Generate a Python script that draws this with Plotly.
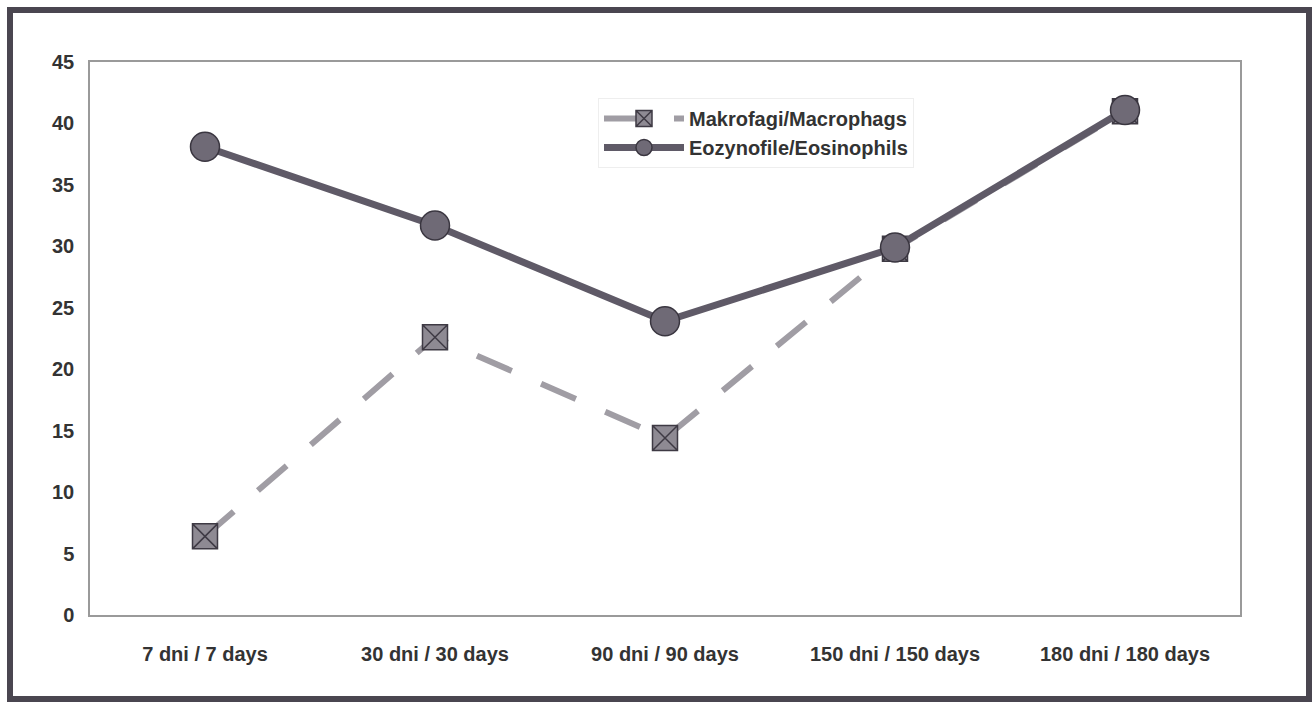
import plotly.graph_objects as go

# Time points and measured percentages
categories = ["7 dni / 7 days", "30 dni / 30 days", "90 dni / 90 days",
              "150 dni / 150 days", "180 dni / 180 days"]
macrophages = [6.4, 22.6, 14.4, 29.8, 41.0]
eosinophils = [38.1, 31.7, 23.9, 29.9, 41.1]
y_ticks = [0, 5, 10, 15, 20, 25, 30, 35, 40, 45]

W, H = 1314, 705
ML, MR, MT, MB = 90, 74, 62, 90
FONT = "Liberation Sans, Arial, sans-serif"
TEXT = "#333333"

fig = go.Figure()

fig.add_trace(go.Scatter(
    x=categories, y=macrophages, name="Makrofagi/Macrophags",
    mode="lines+markers",
    line=dict(color="#a09da4", width=6, dash="38px,32px"),
    marker=dict(symbol="square-x", size=25, color="#8e8a93",
                line=dict(color="#3e3a44", width=1.5)),
))
fig.add_trace(go.Scatter(
    x=categories, y=eosinophils, name="Eozynofile/Eosinophils",
    mode="lines+markers",
    line=dict(color="#5f5a67", width=7),
    marker=dict(symbol="circle", size=29, color="#6f6a76",
                line=dict(color="#3a3640", width=1.5)),
))

# Outer frame around the whole chart
pw, ph = W - ML - MR, H - MT - MB
x0 = (10 - ML) / pw
x1 = (1309 - ML) / pw
y1 = (H - MB - 10) / ph
y0 = (H - MB - 699) / ph
fig.add_shape(type="rect", xref="paper", yref="paper",
              x0=x0, x1=x1, y0=y0, y1=y1,
              line=dict(color="#4a4650", width=6), layer="below")

fig.update_layout(
    width=W, height=H,
    margin=dict(l=ML, r=MR, t=MT, b=MB),
    paper_bgcolor="white", plot_bgcolor="white",
    font=dict(family=FONT, size=21, color=TEXT, weight="bold"),
    showlegend=True,
    legend=dict(
        x=(598 - ML) / pw, y=(H - MB - 98) / ph,
        xanchor="left", yanchor="top",
        bgcolor="rgba(255,255,255,0)",
        bordercolor="#eeeeee", borderwidth=1,
        font=dict(family=FONT, size=20, color=TEXT, weight="bold"),
        itemwidth=80, tracegroupgap=0,
    ),
)

fig.update_xaxes(
    type="category", range=[-0.5, 4.5],
    showgrid=False, zeroline=False,
    showline=True, linecolor="#9a9a9a", linewidth=1.5, mirror=True,
    ticks="", ticklabelstandoff=20,
    tickfont=dict(family=FONT, size=20, color=TEXT, weight="bold"),
)
fig.update_yaxes(
    range=[0, 45], tickvals=y_ticks,
    showgrid=False, zeroline=False,
    showline=True, linecolor="#9a9a9a", linewidth=1.5, mirror=True,
    ticks="", ticklabelstandoff=10,
    tickfont=dict(family=FONT, size=20, color=TEXT, weight="bold"),
)

fig.write_html("out.html")
